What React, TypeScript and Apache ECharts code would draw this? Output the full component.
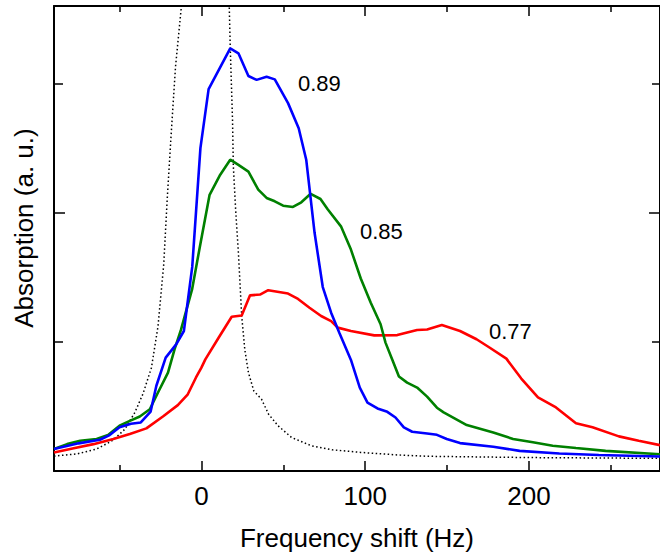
import React, { useEffect, useRef } from "react";
import * as echarts from "echarts";

// Frequency shift (Hz) vs absorption (a. u.)
const X_MIN = -90;
const X_MAX = 280;
const Y_MIN = 0;
const Y_MAX = 1.8;

const xMajorTicks = [0, 100, 200];
const xMinorTicks = [-50, 50, 150, 250];
const yMajorTicks = [1];
const yMinorTicks = [0.5, 1.5];

const seriesNames = ["0.89", "0.85", "0.77", "reference"];

const blue089: number[][] = [
  [-90, 0.085], [-75, 0.107], [-62, 0.121], [-56, 0.139], [-50, 0.169], [-43, 0.183],
  [-37, 0.188], [-31, 0.23], [-27.5, 0.33], [-21.8, 0.439], [-15.4, 0.49], [-10.7, 0.542],
  [-5.6, 0.79], [-0.6, 1.25], [4.4, 1.478], [17.6, 1.636], [22.6, 1.617], [28.7, 1.529],
  [33.7, 1.514], [39.8, 1.526], [44.8, 1.516], [52.9, 1.424], [59.4, 1.327], [64, 1.205],
  [69.1, 0.922], [74.1, 0.712], [79.2, 0.613], [84.2, 0.535], [91.3, 0.43], [96.7, 0.323],
  [101.4, 0.265], [107.5, 0.242], [113.5, 0.229], [118.5, 0.207], [123.6, 0.169],
  [128.7, 0.152], [137.8, 0.145], [143.8, 0.14], [149.8, 0.124], [157.9, 0.108],
  [178.2, 0.094], [194.3, 0.078], [218.5, 0.068], [242.6, 0.062], [280, 0.056],
];

const green085: number[][] = [
  [-90, 0.085], [-82, 0.104], [-74, 0.117], [-64, 0.124], [-57, 0.139], [-50, 0.175],
  [-43.7, 0.194], [-37.6, 0.211], [-31.5, 0.239], [-26.5, 0.304], [-20.4, 0.381],
  [-16.4, 0.471], [-12.4, 0.548], [-5.7, 0.703], [-0.6, 0.88], [5, 1.069], [11.5, 1.147],
  [17.6, 1.205], [22.6, 1.185], [28.7, 1.159], [34.7, 1.089], [39.8, 1.057], [44.8, 1.044],
  [49.9, 1.027], [55.9, 1.022], [61, 1.04], [66.7, 1.073], [72.7, 1.053], [77.2, 1.012],
  [85.2, 0.947], [91.3, 0.857], [97.3, 0.745], [103.4, 0.651], [109.4, 0.568],
  [112.4, 0.497], [116.5, 0.432], [120.6, 0.366], [125.6, 0.342], [131.7, 0.323],
  [137.8, 0.288], [143.8, 0.245], [147.9, 0.227], [162, 0.178], [178.2, 0.149],
  [190.3, 0.124], [202.4, 0.111], [214.5, 0.098], [228.7, 0.089], [246.8, 0.078], [280, 0.065],
];

const red077: number[][] = [
  [-90, 0.072], [-78, 0.088], [-65.9, 0.104], [-53.8, 0.124], [-43.7, 0.143], [-33.6, 0.165],
  [-23.5, 0.211], [-14.4, 0.255], [-8.3, 0.297], [-3.3, 0.362], [0, 0.4], [2.4, 0.432],
  [10.5, 0.516], [18.5, 0.597], [24.6, 0.602], [29.7, 0.68], [35.8, 0.683], [40.8, 0.7],
  [52.9, 0.687], [59, 0.666], [66, 0.632], [73.1, 0.6], [79.2, 0.58], [83.2, 0.555],
  [91.3, 0.542], [105.5, 0.525], [119.6, 0.526], [131.7, 0.546], [137.8, 0.548],
  [146.8, 0.565], [157.9, 0.542], [168, 0.51], [176.1, 0.477], [186.2, 0.435],
  [195.3, 0.358], [205.5, 0.285], [216.5, 0.246], [228.7, 0.185], [238.8, 0.169],
  [254.9, 0.134], [267, 0.117], [280, 0.1],
];

const dottedRef: number[][] = [
  [-90, 0.058], [-76, 0.066], [-64, 0.085], [-58, 0.105], [-53.8, 0.12], [-46.7, 0.162],
  [-40.6, 0.227], [-35.6, 0.3], [-30.5, 0.4], [-26.5, 0.56], [-23, 0.8], [-20.9, 1.05],
  [-18.5, 1.3], [-15.8, 1.565], [-12.2, 1.8], [-11, 2.0], [2.5, 5], [15, 2.2], [17, 1.8],
  [17.6, 1.642], [19, 1.359], [19.5, 1.18], [21, 1.0], [22.6, 0.844], [24.6, 0.6],
  [26.5, 0.47], [28.7, 0.381], [32, 0.31], [36.7, 0.278], [41, 0.22], [46.8, 0.175],
  [55, 0.13], [67, 0.098], [80, 0.082], [97.3, 0.072], [120, 0.062], [137.8, 0.057],
  [200, 0.052], [280, 0.049],
];

export default function App() {
  const ref = useRef<HTMLDivElement>(null);
  useEffect(() => {
    if (!ref.current) return;
    const chart = echarts.init(ref.current, null, { renderer: "svg" });
    const font = "Arial, 'Liberation Sans', Helvetica, sans-serif";
    const black = "#000";
    const xBase = { type: "value", min: X_MIN, max: X_MAX, splitLine: { show: false } };
    const yBase = { type: "value", min: Y_MIN, max: Y_MAX, splitLine: { show: false } };
    const tick = (vals: number[], len: number) => ({
      show: true, inside: true, length: len, customValues: vals,
      lineStyle: { color: black, width: 1.5 },
    });
    const line = (show: boolean) => ({ show, onZero: false, lineStyle: { color: black, width: 2 } });

    chart.setOption({
      animation: false,
      grid: { left: 54, top: 6, right: -5, bottom: 84, containLabel: false },
      xAxis: [
        {
          ...xBase, position: "bottom", axisLine: line(true), axisTick: tick(xMajorTicks, 10),
          axisLabel: { customValues: xMajorTicks, fontSize: 26, color: black, fontFamily: font, margin: 12 },
          name: "Frequency shift (Hz)", nameLocation: "middle", nameGap: 54,
          nameTextStyle: { fontSize: 26, color: black, fontFamily: font },
        },
        { ...xBase, position: "bottom", axisLine: line(false), axisTick: tick(xMinorTicks, 6), axisLabel: { show: false } },
        { ...xBase, position: "top", axisLine: line(true), axisTick: tick(xMajorTicks, 10), axisLabel: { show: false } },
        { ...xBase, position: "top", axisLine: line(false), axisTick: tick(xMinorTicks, 6), axisLabel: { show: false } },
      ],
      yAxis: [
        { ...yBase, position: "left", axisLine: line(true), axisTick: tick(yMajorTicks, 11), axisLabel: { show: false } },
        { ...yBase, position: "left", axisLine: line(false), axisTick: tick(yMinorTicks, 9), axisLabel: { show: false } },
        { ...yBase, position: "right", axisLine: line(true), axisTick: tick(yMajorTicks, 11), axisLabel: { show: false } },
        { ...yBase, position: "right", axisLine: line(false), axisTick: tick(yMinorTicks, 8), axisLabel: { show: false } },
      ],
      graphic: [
        {
          type: "text", x: 24, y: 228, rotation: Math.PI / 2,
          style: { text: "Absorption (a. u.)", font: `26px ${font}`, fill: black, textAlign: "center", textVerticalAlign: "middle" },
        },
        { type: "text", x: 298, y: 83, style: { text: seriesNames[0], font: `22px ${font}`, fill: black, textAlign: "left", textVerticalAlign: "middle" } },
        { type: "text", x: 360, y: 231, style: { text: seriesNames[1], font: `22px ${font}`, fill: black, textAlign: "left", textVerticalAlign: "middle" } },
        { type: "text", x: 489, y: 331, style: { text: seriesNames[2], font: `22px ${font}`, fill: black, textAlign: "left", textVerticalAlign: "middle" } },
      ],
      series: [
        {
          name: seriesNames[3], type: "line", data: dottedRef, showSymbol: false, clip: true,
          lineStyle: { color: black, width: 1.5, type: [1.5, 2.5] }, z: 1,
        },
        { name: seriesNames[2], type: "line", data: red077, showSymbol: false, clip: true, lineStyle: { color: "#ff0000", width: 2.6 }, z: 2 },
        { name: seriesNames[1], type: "line", data: green085, showSymbol: false, clip: true, lineStyle: { color: "#008000", width: 2.6 }, z: 3 },
        { name: seriesNames[0], type: "line", data: blue089, showSymbol: false, clip: true, lineStyle: { color: "#0000ff", width: 2.6 }, z: 4 },
      ],
    });
    return () => chart.dispose();
  }, []);
  return (
    <div
      ref={ref}
      style={{ position: "fixed", left: 0, top: 0, width: 660, height: 556, background: "#fff" }}
    />
  );
}
